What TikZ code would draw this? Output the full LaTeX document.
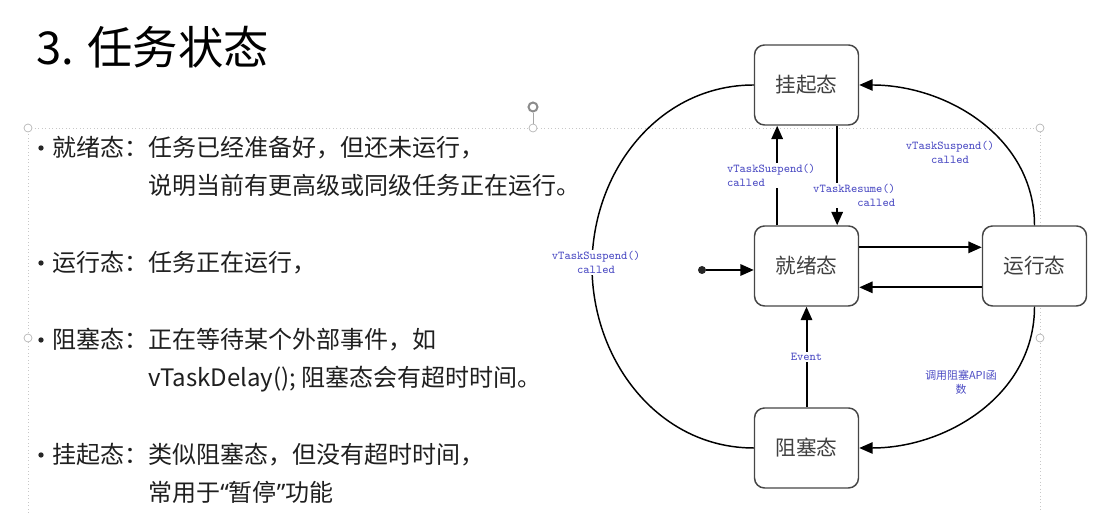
\documentclass[tikz,border=0pt]{standalone}
\usepackage{fontspec}
\setmainfont{Noto Sans CJK SC}
\newfontfamily\codefont{Latin Modern Mono}
\newfontfamily\quotefont{Noto Sans}
\usetikzlibrary{arrows.meta,positioning,calc}
\definecolor{cLab}{RGB}{75,75,195}
\definecolor{cEdge}{RGB}{70,70,70}
\definecolor{cSel}{RGB}{200,200,200}

\begin{document}
\begin{tikzpicture}[x=0.75pt,y=0.75pt,>={Triangle[length=10pt,width=8.5pt]},
  state/.style={draw=cEdge,fill=white,line width=1.1pt,rounded corners=7.5pt,minimum width=78pt,minimum height=60pt,font=\fontsize{15.5}{18}\selectfont,text=black!75},
  lab/.style={font=\codefont\fontsize{9}{10.5}\selectfont,text=cLab,fill=white,inner sep=1pt,align=center},
  link/.style={->,line width=1.5pt},
  curve/.style={line width=1.1pt},
  item/.style={anchor=base west,inner sep=0pt,font=\fontsize{18}{28.5}\selectfont,text=black!88},
  dot/.style={circle,fill=black!85,inner sep=0pt,minimum size=4pt}]
  \useasboundingbox (0,0) rectangle (1104,513);
  % selection frame of the text box
  \draw[cSel,dotted,line width=0.6pt] (28,0) |- (1040,385) -- (1040,0);
  \draw[black!35,line width=0.6pt] (533,385) -- (533,400);
  \draw[black!45,line width=1.5pt] (533,406) circle (4.5);
  \foreach \p in {(28,385),(533,385),(1040,385),(28,175),(1040,175)}
    \draw[black!30,fill=white,line width=0.5pt] \p circle (4);

  \node[anchor=west,inner sep=0pt,font=\fontsize{34}{40}\selectfont] (title) at (36,466) {3. 任务状态};

  % bullet list
  \node[dot] (b-ready) at (41,365) {};
  \node[item] (i-ready) at (52,356) {就绪态：\begin{tabular}[t]{@{}l@{}}任务已经准备好，但还未运行，\\说明当前有更高级或同级任务正在运行。\end{tabular}};
  \node[dot] (b-run) at (41,250) {};
  \node[item] (i-run) at (52,241) {运行态：任务正在运行，};
  \node[dot] (b-block) at (41,173) {};
  \node[item] (i-block) at (52,164) {阻塞态：\begin{tabular}[t]{@{}l@{}}正在等待某个外部事件，如\\vTaskDelay(); 阻塞态会有超时时间。\end{tabular}};
  \node[dot] (b-susp) at (41,58) {};
  \node[item] (i-susp) at (52,49) {挂起态：\begin{tabular}[t]{@{}l@{}}类似阻塞态，但没有超时时间，\\常用于{\quotefont“}暂停{\quotefont”}功能\end{tabular}};

  % state machine
  \node[state] (sus) at (806.5,428) {挂起态};
  \node[state] (rdy) at (806.5,247) {就绪态};
  \node[state] (run) at (1034.5,247) {运行态};
  \node[state] (blk) at (806.5,65) {阻塞态};
  \node[dot,minimum size=6pt] (init) at (702,243) {};
  \coordinate (lm) at (592,247);

  \draw[link] ([xshift=-22pt]rdy.north) -- ([xshift=-22pt]sus.south) node[lab,midway,align=left,xshift=-4.5pt] {vTaskSuspend()\\called};
  \draw[link] ([xshift=23pt]sus.south) -- ([xshift=23pt]rdy.north) node[lab,pos=0.7,align=right,xshift=12.75pt] {vTaskResume()\\called};
  \draw[link] ([yshift=14pt]rdy.east) -- ([yshift=14pt]run.west);
  \draw[link] ([yshift=-16pt]run.west) -- ([yshift=-16pt]rdy.east);
  \draw[link] (blk) -- (rdy) node[lab,midway] {Event};
  \draw[link] (init) -- (init -| rdy.west);
  \draw[curve,->] (run.north) to[out=90,in=0] (sus.east);
  \draw[curve,->] (run.south) to[out=-90,in=0] (blk.east);
  \draw[curve] (sus.west) to[out=180,in=90] (lm) to[out=-90,in=180] (blk.west);
  \node[lab,fill=none] (l-run) at (950,361) {vTaskSuspend()\\called};
  \node[lab,fill=none,font=\fontsize{8.2}{10.5}\selectfont] (l-blk) at (961,131) {调用阻塞API函\\数};
  \node[lab] (l-left) at ($(lm)+(4,3.5)$) {vTaskSuspend()\\called};
\end{tikzpicture}
\end{document}
